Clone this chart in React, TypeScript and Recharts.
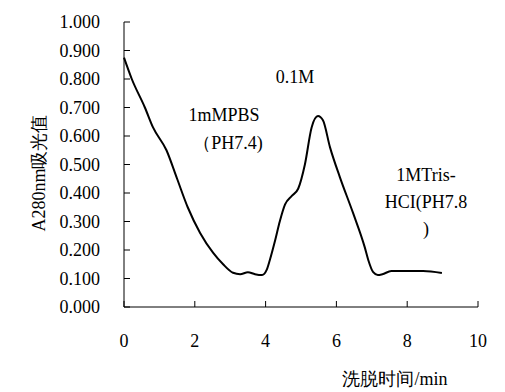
import { LineChart, Line, XAxis, YAxis, Customized } from 'recharts';

// elution time (min) and A280 readings
const times = [
  0, 0.22, 0.59, 0.82, 1.2, 1.5, 1.8, 2.15, 2.52, 2.8, 3.08, 3.28, 3.5, 3.7, 3.9,
  4.03, 4.12, 4.27, 4.4, 4.55, 4.74, 4.92, 5.11, 5.3, 5.48, 5.62, 5.82, 6.1, 6.47,
  6.8, 6.9, 7.04, 7.17, 7.3, 7.55, 8.45, 8.98,
];
const absorbance = [
  0.875, 0.8, 0.7, 0.63, 0.55, 0.45, 0.35, 0.26, 0.19, 0.15, 0.12, 0.115, 0.122,
  0.115, 0.112, 0.13, 0.165, 0.234, 0.3, 0.36, 0.39, 0.415, 0.5, 0.63, 0.67, 0.655,
  0.56, 0.455, 0.33, 0.21, 0.165, 0.122, 0.112, 0.115, 0.126, 0.126, 0.119,
];
const xTicks = [0, 2, 4, 6, 8, 10];
const yTicks = [0, 0.1, 0.2, 0.3, 0.4, 0.5, 0.6, 0.7, 0.8, 0.9, 1.0];

const data = times.map((t, i) => ({ t, a: absorbance[i] }));

const tickFont = { fontFamily: 'Liberation Serif', fontSize: 18, fill: '#000' };

const Notes = () => (
  <g fontFamily="Liberation Serif" fontSize={18} fill="#000">
    <text x={224} y={121} textAnchor="middle">1mMPBS</text>
    <text x={228} y={149} textAnchor="middle">（PH7.4)</text>
    <text x={295} y={83} textAnchor="middle">0.1M</text>
    <text x={426} y={181} textAnchor="middle">1MTris-</text>
    <text x={426} y={208} textAnchor="middle">HCI(PH7.8</text>
    <text x={426} y={235} textAnchor="middle">)</text>
    <text x={395} y={385} textAnchor="middle">洗脱时间/min</text>
    <text x={45} y={173} textAnchor="middle" transform="rotate(-90 45 173)">A280nm吸光值</text>
  </g>
);

export default function App() {
  return (
    <div style={{ marginLeft: -8, marginTop: -8 }}>
      <LineChart width={505} height={392} data={data} margin={{ top: 22, right: 27, bottom: 0, left: 0 }}>
        <XAxis
          dataKey="t"
          type="number"
          domain={[0, 10]}
          ticks={xTicks}
          height={85}
          stroke="#000"
          tickSize={-6}
          tickMargin={33}
          tick={tickFont}
        />
        <YAxis
          type="number"
          domain={[0, 1]}
          ticks={yTicks}
          width={124}
          stroke="#000"
          tickSize={-6}
          tickMargin={30}
          tick={tickFont}
          tickFormatter={(v: number) => v.toFixed(3)}
        />
        <Line
          dataKey="a"
          type="monotone"
          stroke="#000"
          strokeWidth={2}
          dot={false}
          isAnimationActive={false}
        />
        <Customized component={Notes} />
      </LineChart>
    </div>
  );
}
